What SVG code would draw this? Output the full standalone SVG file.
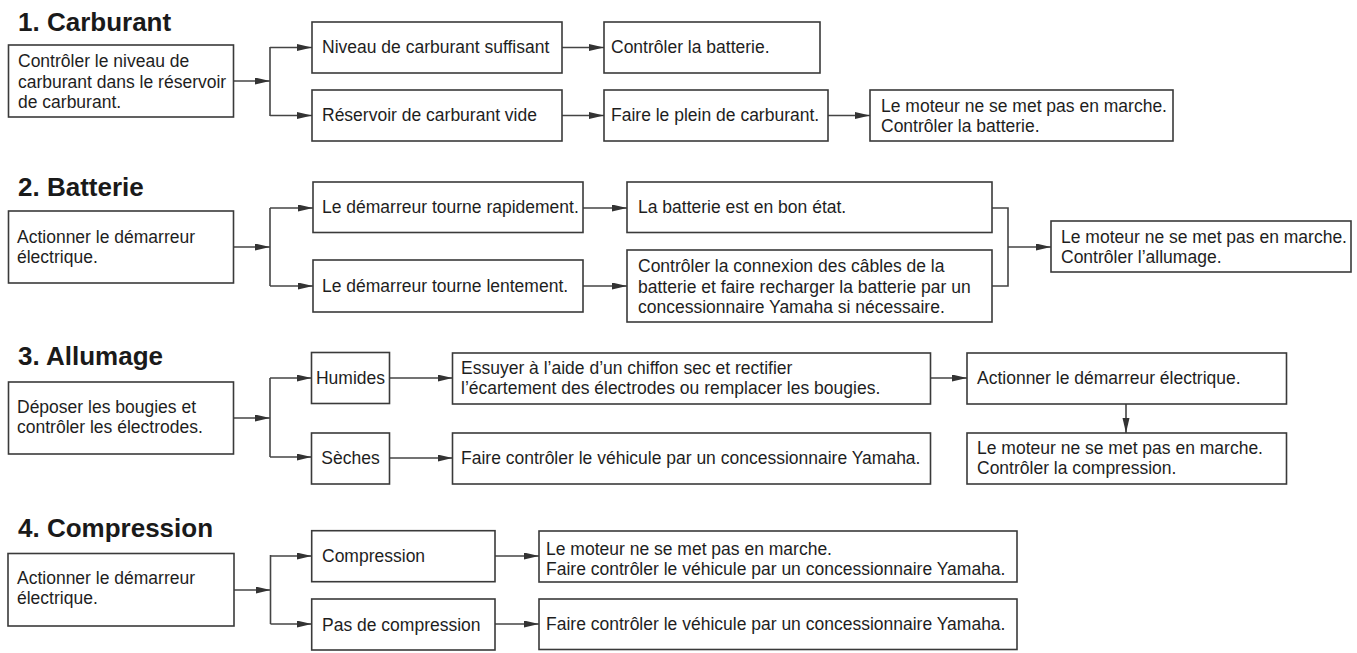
<svg xmlns="http://www.w3.org/2000/svg" width="1357" height="653" viewBox="0 0 1357 653">
<style>
.box{fill:#fff;stroke:#3a3a3a;stroke-width:1.6}
.t{font-family:"Liberation Sans",Arial,sans-serif;font-size:17.5px;fill:#1e1e1e}
.c{text-anchor:middle}
.h{font-family:"Liberation Sans",Arial,sans-serif;font-size:26px;font-weight:bold;fill:#1a1a1a}
.ln{fill:none;stroke:#444;stroke-width:1.6}
.ar{marker-end:url(#ah)}
</style>
<defs>
<marker id="ah" markerUnits="userSpaceOnUse" markerWidth="16" markerHeight="8" refX="15" refY="3.5" orient="auto">
<path d="M0,0 L15,3.5 L0,7 Z" fill="#333"/>
</marker>
</defs>
<rect width="1357" height="653" fill="#fff"/>
<text id="title1" class="h" x="18" y="31">1. Carburant</text>
<text id="title2" class="h" x="18" y="196">2. Batterie</text>
<text id="title3" class="h" x="18" y="365">3. Allumage</text>
<text id="title4" class="h" x="18" y="537">4. Compression</text>

<g id="connectors">
<path class="ln ar" d="M233.5,81 H270"/>
<path class="ln" d="M270,47 V116"/>
<path class="ln ar" d="M270,47.5 H312"/>
<path class="ln ar" d="M270,115.5 H312"/>
<path class="ln ar" d="M562,47.5 H604"/>
<path class="ln ar" d="M562,115.5 H604"/>
<path class="ln ar" d="M828,115.5 H870"/>

<path class="ln ar" d="M233.5,247 H270"/>
<path class="ln" d="M270,208 V286"/>
<path class="ln ar" d="M270,208 H313"/>
<path class="ln ar" d="M270,286 H313"/>
<path class="ln ar" d="M583,208 H627"/>
<path class="ln ar" d="M583,286 H627"/>
<path class="ln" d="M992,208 H1008 V286 H992"/>
<path class="ln ar" d="M1008,247 H1051"/>

<path class="ln ar" d="M233.5,418 H270"/>
<path class="ln" d="M270,378 V457"/>
<path class="ln ar" d="M270,378 H311.5"/>
<path class="ln ar" d="M270,457 H311.5"/>
<path class="ln ar" d="M389.5,378 H452.5"/>
<path class="ln ar" d="M389.5,458 H452.5"/>
<path class="ln ar" d="M930.5,378 H967"/>
<path class="ln ar" d="M1126,404 V433"/>

<path class="ln ar" d="M234,590 H270.5"/>
<path class="ln" d="M270.5,555 V624"/>
<path class="ln ar" d="M270.5,556 H311.7"/>
<path class="ln ar" d="M270.5,624 H311.7"/>
<path class="ln ar" d="M495,556 H539"/>
<path class="ln ar" d="M495,624 H539"/>
</g>

<g id="a1"><rect class="box" x="8.5" y="45" width="225" height="72"/>
<text class="t" x="18" y="67">Contrôler le niveau de</text>
<text class="t" x="18" y="87.5">carburant dans le réservoir</text>
<text class="t" x="18" y="108">de carburant.</text></g>
<g id="b1a"><rect class="box" x="312" y="22" width="250" height="51"/>
<text class="t" x="322" y="53">Niveau de carburant suffisant</text></g>
<g id="b1b"><rect class="box" x="312" y="90" width="250" height="51"/>
<text class="t" x="322" y="121">Réservoir de carburant vide</text></g>
<g id="c1a"><rect class="box" x="604" y="22" width="216" height="51"/>
<text class="t" x="611" y="53">Contrôler la batterie.</text></g>
<g id="c1b"><rect class="box" x="604" y="90" width="224" height="51"/>
<text class="t" x="611" y="121">Faire le plein de carburant.</text></g>
<g id="d1"><rect class="box" x="870" y="90" width="303" height="51"/>
<text class="t" x="881" y="112">Le moteur ne se met pas en marche.</text>
<text class="t" x="881" y="132">Contrôler la batterie.</text></g>

<g id="a2"><rect class="box" x="8.5" y="211" width="225" height="72"/>
<text class="t" x="17" y="243">Actionner le démarreur</text>
<text class="t" x="17" y="263">électrique.</text></g>
<g id="b2a"><rect class="box" x="313" y="182" width="270" height="50.5"/>
<text class="t" x="322" y="213">Le démarreur tourne rapidement.</text></g>
<g id="b2b"><rect class="box" x="313" y="260" width="270" height="52"/>
<text class="t" x="322" y="292">Le démarreur tourne lentement.</text></g>
<g id="c2a"><rect class="box" x="627" y="182" width="365" height="50.5"/>
<text class="t" x="638" y="213">La batterie est en bon état.</text></g>
<g id="c2b"><rect class="box" x="627" y="250" width="365" height="72"/>
<text class="t" x="638" y="272">Contrôler la connexion des câbles de la</text>
<text class="t" x="638" y="292.5">batterie et faire recharger la batterie par un</text>
<text class="t" x="638" y="313">concessionnaire Yamaha si nécessaire.</text></g>
<g id="d2"><rect class="box" x="1051" y="221" width="300" height="51"/>
<text class="t" x="1061" y="243">Le moteur ne se met pas en marche.</text>
<text class="t" x="1061" y="263">Contrôler l’allumage.</text></g>

<g id="a3"><rect class="box" x="8.5" y="382" width="225" height="72"/>
<text class="t" x="17" y="413">Déposer les bougies et</text>
<text class="t" x="17" y="433">contrôler les électrodes.</text></g>
<g id="b3a"><rect class="box" x="311.5" y="352.5" width="78" height="51"/>
<text class="t c" x="350.5" y="384">Humides</text></g>
<g id="b3b"><rect class="box" x="311.5" y="433" width="78" height="51"/>
<text class="t c" x="350.5" y="464">Sèches</text></g>
<g id="c3a"><rect class="box" x="452.5" y="353" width="478" height="51"/>
<text class="t" x="461" y="373.5">Essuyer à l’aide d’un chiffon sec et rectifier</text>
<text class="t" x="461" y="394">l’écartement des électrodes ou remplacer les bougies.</text></g>
<g id="c3b"><rect class="box" x="452.5" y="433" width="478" height="51"/>
<text class="t" x="461" y="464">Faire contrôler le véhicule par un concessionnaire Yamaha.</text></g>
<g id="d3a"><rect class="box" x="967" y="353" width="319.5" height="51"/>
<text class="t" x="977" y="384">Actionner le démarreur électrique.</text></g>
<g id="d3b"><rect class="box" x="967" y="433" width="319.5" height="51"/>
<text class="t" x="977" y="453.5">Le moteur ne se met pas en marche.</text>
<text class="t" x="977" y="474">Contrôler la compression.</text></g>

<g id="a4"><rect class="box" x="8" y="553.5" width="226" height="72.5"/>
<text class="t" x="17" y="584">Actionner le démarreur</text>
<text class="t" x="17" y="604">électrique.</text></g>
<g id="b4a"><rect class="box" x="311.7" y="530.7" width="183.3" height="51"/>
<text class="t" x="322" y="562">Compression</text></g>
<g id="b4b"><rect class="box" x="311.7" y="599" width="183.3" height="51"/>
<text class="t" x="322" y="631">Pas de compression</text></g>
<g id="c4a"><rect class="box" x="539" y="531" width="478" height="51"/>
<text class="t" x="546" y="555">Le moteur ne se met pas en marche.</text>
<text class="t" x="546" y="575">Faire contrôler le véhicule par un concessionnaire Yamaha.</text></g>
<g id="c4b"><rect class="box" x="539" y="599" width="478" height="50.5"/>
<text class="t" x="546" y="630">Faire contrôler le véhicule par un concessionnaire Yamaha.</text></g>
</svg>
